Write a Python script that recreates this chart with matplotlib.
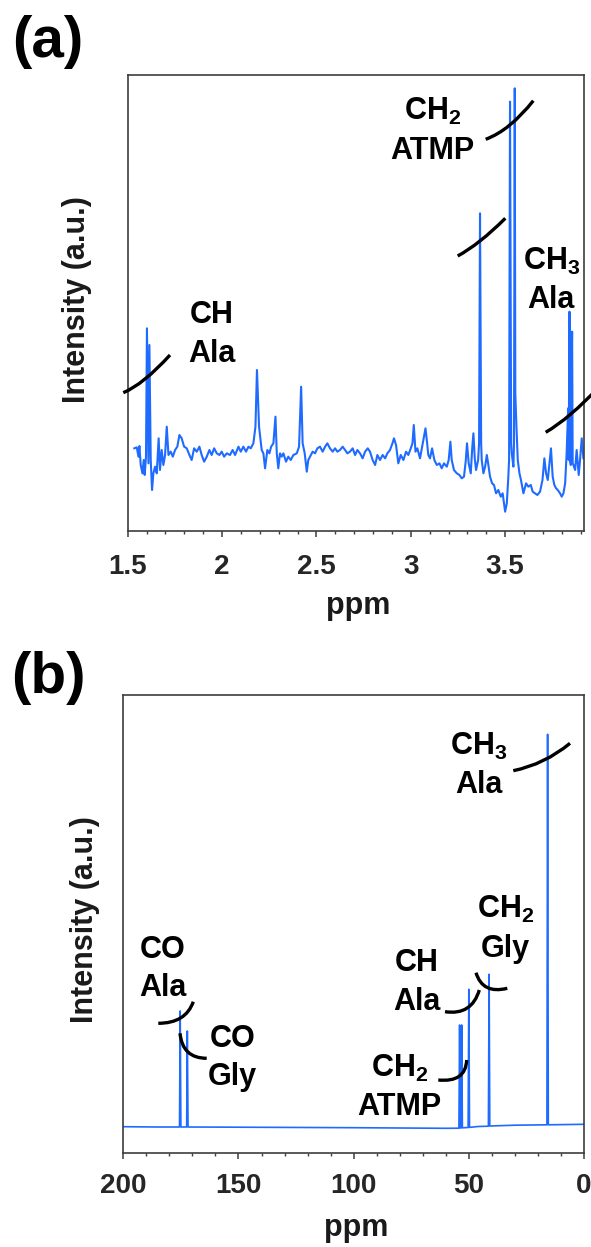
import matplotlib
matplotlib.use("Agg")
import matplotlib.pyplot as plt
from matplotlib.path import Path
from matplotlib.patches import PathPatch
from matplotlib.ticker import MultipleLocator, FormatStrFormatter

# ---------------- data ----------------
# (a) 1H spectrum, chemical shift (ppm) and intensity (a.u.)
h_ppm = [
    1.535, 1.548, 1.557, 1.562, 1.569, 1.578, 1.585, 1.590, 1.597, 1.602,
    1.610, 1.615, 1.622, 1.629, 1.636, 1.645, 1.654, 1.664, 1.671, 1.680,
    1.689, 1.698, 1.707, 1.716, 1.728, 1.739, 1.751, 1.763, 1.774, 1.786,
    1.799, 1.813, 1.827, 1.839, 1.852, 1.866, 1.880, 1.892, 1.905, 1.919,
    1.933, 1.945, 1.958, 1.972, 1.986, 1.998, 2.011, 2.025, 2.042, 2.056,
    2.069, 2.087, 2.099, 2.113, 2.127, 2.140, 2.152, 2.166, 2.177, 2.185,
    2.196, 2.210, 2.219, 2.228, 2.240, 2.251, 2.260, 2.272, 2.283, 2.290,
    2.298, 2.307, 2.316, 2.325, 2.339, 2.351, 2.364, 2.378, 2.396, 2.408,
    2.419, 2.427, 2.438, 2.449, 2.457, 2.466, 2.480, 2.493, 2.505, 2.519,
    2.533, 2.546, 2.558, 2.572, 2.586, 2.599, 2.611, 2.625, 2.639, 2.652,
    2.664, 2.678, 2.692, 2.705, 2.717, 2.731, 2.745, 2.758, 2.772, 2.784,
    2.798, 2.811, 2.823, 2.837, 2.851, 2.864, 2.876, 2.890, 2.903, 2.911,
    2.922, 2.934, 2.947, 2.961, 2.975, 2.987, 3.000, 3.009, 3.016, 3.025,
    3.035, 3.049, 3.060, 3.070, 3.078, 3.085, 3.093, 3.102, 3.113, 3.125,
    3.138, 3.152, 3.164, 3.176, 3.191, 3.201, 3.210, 3.217, 3.229, 3.244,
    3.258, 3.270, 3.282, 3.291, 3.298, 3.307, 3.318, 3.325, 3.332, 3.339,
    3.346, 3.357, 3.362, 3.367, 3.373, 3.376, 3.385, 3.394, 3.403, 3.410,
    3.420, 3.431, 3.441, 3.452, 3.464, 3.477, 3.487, 3.500, 3.509, 3.517,
    3.521, 3.526, 3.532, 3.535, 3.544, 3.547, 3.551, 3.554, 3.560, 3.567,
    3.576, 3.584, 3.597, 3.611, 3.623, 3.636, 3.646, 3.659, 3.671, 3.685,
    3.698, 3.708, 3.717, 3.726, 3.735, 3.743, 3.752, 3.761, 3.770, 3.779,
    3.791, 3.800, 3.809, 3.818, 3.826, 3.834, 3.837, 3.841, 3.844, 3.848,
    3.851, 3.855, 3.858, 3.862, 3.871, 3.879, 3.890, 3.897, 3.906, 3.915,
]
h_int = [
    248, 251, 223, 255, 198, 173, 213, 168, 223, 608,
    203, 558, 213, 123, 173, 193, 173, 278, 183, 243,
    198, 228, 313, 228, 238, 223, 243, 253, 288, 278,
    253, 248, 228, 213, 248, 238, 253, 228, 208, 223,
    243, 228, 248, 233, 228, 238, 223, 233, 228, 243,
    228, 253, 238, 253, 238, 253, 248, 263, 313, 483,
    313, 243, 233, 188, 243, 233, 253, 263, 343, 233,
    188, 233, 223, 233, 208, 223, 213, 228, 233, 253,
    433, 263, 233, 178, 213, 223, 238, 233, 248, 253,
    238, 253, 263, 248, 238, 248, 238, 243, 253, 243,
    233, 238, 248, 228, 243, 233, 218, 238, 248, 238,
    213, 198, 228, 213, 228, 218, 233, 243, 263, 278,
    258, 203, 228, 213, 238, 228, 248, 263, 318, 238,
    248, 218, 253, 283, 308, 273, 228, 218, 248, 213,
    198, 203, 188, 203, 193, 213, 268, 213, 183, 173,
    168, 158, 163, 208, 263, 203, 173, 243, 293, 218,
    183, 213, 263, 953, 263, 213, 173, 193, 228, 203,
    163, 143, 138, 113, 123, 103, 113, 58, 83, 163,
    213, 1288, 263, 233, 193, 263, 1328, 413, 313, 213,
    173, 153, 113, 143, 133, 138, 118, 113, 108, 118,
    153, 218, 173, 153, 203, 248, 163, 138, 128, 123,
    113, 103, 113, 143, 233, 368, 213, 658, 213, 198,
    413, 598, 203, 198, 183, 243, 168, 213, 278, 218,
]

# (b) 13C spectrum, chemical shift (ppm) and intensity (a.u.)
c_ppm = [200, 185, 175.6, 175.3, 175.0, 172.5, 172.2, 171.9, 150, 120,
         100, 80, 60, 54.3, 54.0, 53.7, 53.4, 53.1, 52.8, 50.3,
         50.0, 49.7, 46, 41.5, 41.2, 40.9, 30, 16.1, 15.8, 15.5, 0]
c_int = [26.3, 26.0, 26.0, 142.0, 26.0, 26.0, 122.0, 26.0, 25.8, 25.5,
         25.3, 25.0, 24.7, 24.8, 128.0, 25.0, 25.0, 128.0, 25.2, 25.5,
         163.7, 25.6, 26.5, 26.8, 178.7, 27.0, 27.8, 28.2, 418.7, 28.2, 28.7]

h_ticks = [1.5, 2.0, 2.5, 3.0, 3.5]
c_ticks = [200, 150, 100, 50, 0]

# ---------------- style ----------------
W, H = 591, 1247
plt.rcParams["font.family"] = ["Liberation Sans", "DejaVu Sans"]
plt.rcParams["font.weight"] = "bold"
plt.rcParams["mathtext.fontset"] = "custom"
plt.rcParams["mathtext.rm"] = "Liberation Sans:bold"
plt.rcParams["mathtext.it"] = "Liberation Sans:bold"
plt.rcParams["mathtext.bf"] = "Liberation Sans:bold"

BLUE = "#1f6bff"
SPINE = "#3d3d3d"
TXT = "#1a1a1a"

fig = plt.figure(figsize=(W / 100, H / 100), dpi=100)


def fx(px):
    return px / W


def fy(py):
    return 1 - py / H


def style_axes(ax, pad):
    for s in ax.spines.values():
        s.set_color(SPINE)
        s.set_linewidth(1.2)
    ax.tick_params(axis="x", which="major", direction="out", length=4.2,
                   width=1.1, color=SPINE, labelsize=20, labelcolor="#262626",
                   pad=pad)
    ax.tick_params(axis="x", which="minor", direction="out", length=2.4,
                   width=1.0, color=SPINE)
    ax.tick_params(axis="y", which="both", left=False, labelleft=False)
    for lab in ax.get_xticklabels():
        lab.set_fontweight("bold")


# panel (a)
ax1 = fig.add_axes([fx(127.7), fy(531), fx(584) - fx(127.7), fy(75) - fy(531)])
ax1.plot(h_ppm, h_int, color=BLUE, lw=1.5)
ax1.set_xlim(1.5, 3.918)
ax1.set_ylim(0, 1368)
ax1.set_xticks(h_ticks)
ax1.xaxis.set_major_formatter(FormatStrFormatter("%g"))
ax1.xaxis.set_minor_locator(MultipleLocator(0.1))
style_axes(ax1, 12.5)

# panel (b)
ax2 = fig.add_axes([fx(123.3), fy(1153), fx(584) - fx(123.3), fy(695) - fy(1153)])
ax2.plot(c_ppm, c_int, color=BLUE, lw=1.2)
ax2.set_xlim(200, 0)
ax2.set_ylim(0, 458)
ax2.set_xticks(c_ticks)
ax2.xaxis.set_minor_locator(MultipleLocator(10))
style_axes(ax2, 10)

# panel letters
fig.text(fx(12), fy(42), "(a)", fontsize=42, fontweight="bold", ha="left",
         va="center", color="black")
fig.text(fx(11), fy(678), "(b)", fontsize=42, fontweight="bold", ha="left",
         va="center", color="black")

# axis titles
fig.text(fx(77), fy(300), "Intensity (a.u.)", rotation=90, fontsize=22,
         fontweight="bold", ha="center", va="center", color=TXT)
fig.text(fx(85), fy(920), "Intensity (a.u.)", rotation=90, fontsize=22,
         fontweight="bold", ha="center", va="center", color=TXT)
fig.text(fx(358), fy(614), "ppm", fontsize=22, fontweight="bold",
         ha="center", va="baseline", color=TXT)
fig.text(fx(356), fy(1236), "ppm", fontsize=22, fontweight="bold",
         ha="center", va="baseline", color=TXT)

# peak assignments: (text, centre x, baseline y) in pixels
labels = [
    ("CH", 212, 323), ("Ala", 212, 361.5),
    ("CH$_2$", 433, 120), ("ATMP", 432, 159),
    ("CH$_3$", 552, 270), ("Ala", 551, 308),
    ("CH$_3$", 479, 755), ("Ala", 479, 793),
    ("CH$_2$", 506, 918), ("Gly", 505.5, 956.5),
    ("CH", 417, 971), ("Ala", 417, 1010),
    ("CH$_2$", 400, 1077), ("ATMP", 399, 1115),
    ("CO", 163, 958), ("Ala", 163, 996.5),
    ("CO", 233, 1047), ("Gly", 232.5, 1085),
]
for txt, x, y in labels:
    fig.text(fx(x), fy(y), txt, fontsize=22, fontweight="bold",
             ha="center", va="baseline", color="black")

# curved brackets: (start, control, end) in pixels
brackets = [
    ((123.3, 392.7), (143.0, 384.7), (170.0, 355.0)),
    ((485.7, 139.3), (510.0, 130.3), (533.3, 100.7)),
    ((457.7, 256.0), (479.3, 244.3), (505.3, 218.3)),
    ((545.7, 432.3), (569.3, 418.7), (600.0, 386.0)),
    ((513.3, 770.7), (544.7, 764.3), (570.0, 743.3)),
    ((476.0, 972.7), (482.6, 994.5), (507.3, 988.3)),
    ((445.0, 1011.7), (471.7, 1015.7), (479.3, 990.0)),
    ((438.3, 1080.0), (465.7, 1082.7), (466.7, 1060.0)),
    ((158.3, 1023.3), (185.7, 1023.3), (193.3, 1001.7)),
    ((180.0, 1033.3), (182.5, 1058.3), (206.7, 1058.3)),
]
for p0, p1, p2 in brackets:
    verts = [(fx(p0[0]), fy(p0[1])), (fx(p1[0]), fy(p1[1])),
             (fx(p2[0]), fy(p2[1]))]
    path = Path(verts, [Path.MOVETO, Path.CURVE3, Path.CURVE3])
    fig.add_artist(PathPatch(path, fill=False, edgecolor="black", lw=2.4,
                             transform=fig.transFigure, capstyle="butt"))

fig.savefig("out.png", dpi=100)
